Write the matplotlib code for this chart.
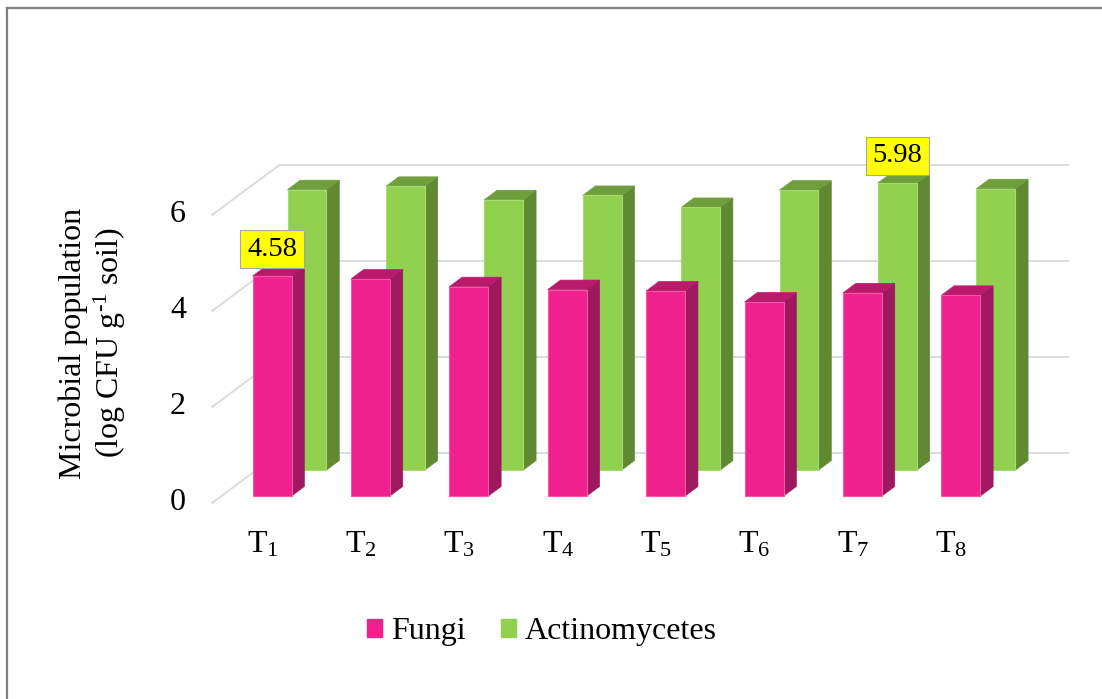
import numpy as np
import matplotlib.pyplot as plt
from matplotlib.patches import Polygon, Patch
from matplotlib.lines import Line2D

plt.rcParams['font.family'] = ['Liberation Serif', 'DejaVu Serif']
plt.rcParams['mathtext.fontset'] = 'custom'
plt.rcParams['mathtext.rm'] = 'Liberation Serif'
plt.rcParams['mathtext.it'] = 'Liberation Serif:italic'

# data
treatments = ['T$_1$', 'T$_2$', 'T$_3$', 'T$_4$', 'T$_5$', 'T$_6$', 'T$_7$', 'T$_8$']
fungi = [4.58, 4.52, 4.36, 4.30, 4.27, 4.04, 4.23, 4.18]
actinomycetes = [5.84, 5.91, 5.63, 5.72, 5.47, 5.83, 5.98, 5.86]
yticks = [0, 2, 4, 6]

# colours: front, side, top, edge
PINK = ('#F0218F', '#9E1860', '#B91A6C', '#F25AA8')
GREEN = ('#92D050', '#5F8A32', '#6F9E3C', '#A6DA73')

W, H = 1102, 699
fig = plt.figure(figsize=(W / 100, H / 100), dpi=100)
ax = fig.add_axes([0, 0, 1, 1])

# oblique "3D" layout: pixels per category / per value unit
PX_CAT = 98.4
PX_VAL = 48.0
X0, Y0 = 262.6, 503.0
ax.set_xlim(-X0 / PX_CAT, (W - X0) / PX_CAT)
ax.set_ylim(-(H - Y0) / PX_VAL, Y0 / PX_VAL)
ax.axis('off')

DX = 68 / PX_CAT      # shift of one full depth unit
DY = 50.5 / PX_VAL
X_LEFT, X_RIGHT = -0.514, 7.494
HALF_W = 0.198


def proj(x, y, z):
    return x + z * DX, y + z * DY


# walls: gridlines on back wall + side wall
for t in yticks:
    xa, ya = proj(X_LEFT, t, 1)
    xb, yb = proj(X_RIGHT, t, 1)
    ax.plot([xa, xb], [ya, yb], color='#D9D9D9', lw=1.3, zorder=1)
    xc, yc = proj(X_LEFT, t, 0)
    ax.plot([xc, xa], [yc, ya], color='#D9D9D9', lw=1.3, zorder=1)
    ax.text(-0.778, t, str(t), ha='right', va='center', fontsize=23)


def draw_bar(xc, v, z0, z1, cols, zo):
    front, side, top, edge = cols
    l, r = xc - HALF_W, xc + HALF_W
    side_pts = [proj(r, 0, z0), proj(r, 0, z1), proj(r, v, z1), proj(r, v, z0)]
    top_pts = [proj(l, v, z0), proj(r, v, z0), proj(r, v, z1), proj(l, v, z1)]
    front_pts = [proj(l, 0, z0), proj(r, 0, z0), proj(r, v, z0), proj(l, v, z0)]
    ax.add_patch(Polygon(side_pts, closed=True, fc=side, ec=side, lw=0.5, zorder=zo))
    ax.add_patch(Polygon(top_pts, closed=True, fc=top, ec=top, lw=0.5, zorder=zo))
    ax.add_patch(Polygon(front_pts, closed=True, fc=front, ec=edge, lw=0.8, zorder=zo))


Z_PINK = (0.139, 0.327)
Z_GREEN = (0.653, 0.841)

for i, v in enumerate(actinomycetes):
    draw_bar(i, v, Z_GREEN[0], Z_GREEN[1], GREEN, 2)
for i, v in enumerate(fungi):
    draw_bar(i, v, Z_PINK[0], Z_PINK[1], PINK, 3)

# value boxes on the highest bar of each series
for vals, zr in [(fungi, Z_PINK), (actinomycetes, Z_GREEN)]:
    k = int(np.argmax(vals))
    ax.annotate(f'{vals[k]:.2f}', xy=proj(k, vals[k], zr[0]), xytext=(0, 27),
                textcoords='offset pixels', ha='center', va='center', fontsize=20.5,
                bbox=dict(boxstyle='square,pad=0.24', fc='#FFFF00', ec='#A6A6A6', lw=0.8),
                zorder=5)

for i, lab in enumerate(treatments):
    ax.text(i, -1.04, lab, ha='center', va='baseline', fontsize=23)

fig.text(73 / W, 1 - 343 / H, 'Microbial population', rotation=90,
         ha='center', va='center', fontsize=23)
fig.text(110 / W, 1 - 343 / H, r'(log CFU g$^{\text{-1}}$ soil)', rotation=90,
         ha='center', va='center', fontsize=23)

fig.legend(handles=[Patch(color=PINK[0]), Patch(color=GREEN[0])],
           labels=['Fungi', 'Actinomycetes'], loc='center',
           bbox_to_anchor=(542 / W, 1 - 632 / H), ncol=2, frameon=False,
           fontsize=23, handlelength=0.47, handleheight=0.47,
           handletextpad=0.28, columnspacing=1.1)

# chart border (only top and left visible)
fig.add_artist(Line2D([7 / W, 7 / W], [0, 1 - 8 / H], transform=fig.transFigure,
                      color='#7F7F7F', lw=1.6))
fig.add_artist(Line2D([7 / W, 1], [1 - 8 / H, 1 - 8 / H], transform=fig.transFigure,
                      color='#7F7F7F', lw=1.6))

fig.savefig('out.png', dpi=100)
